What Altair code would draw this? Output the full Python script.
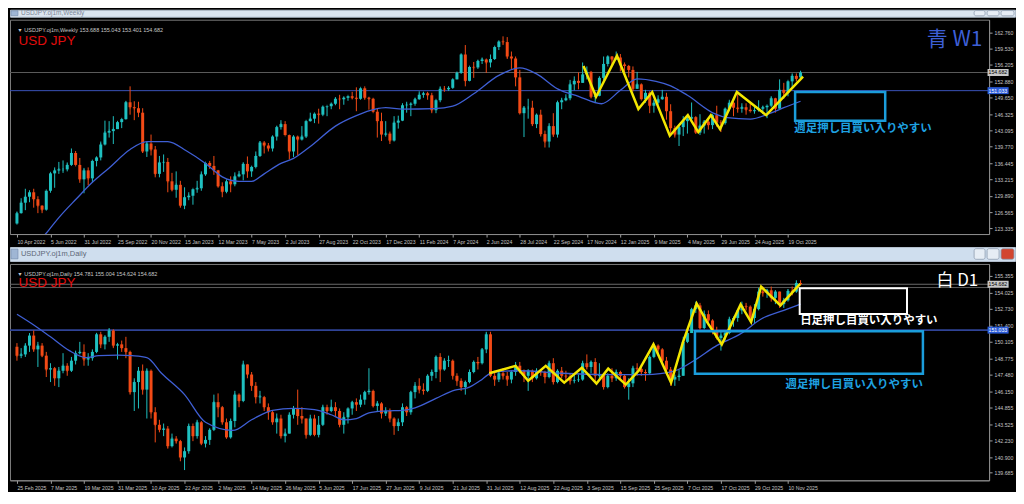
import json
import altair as alt
import pandas as pd

# ---------------- axis labels ----------------
W_XLABELS = ["10 Apr 2022", "5 Jun 2022", "31 Jul 2022", "25 Sep 2022", "20 Nov 2022", "15 Jan 2023",
             "12 Mar 2023", "7 May 2023", "2 Jul 2023", "27 Aug 2023", "22 Oct 2023", "17 Dec 2023",
             "11 Feb 2024", "7 Apr 2024", "2 Jun 2024", "28 Jul 2024", "22 Sep 2024", "17 Nov 2024",
             "12 Jan 2025", "9 Mar 2025", "4 May 2025", "29 Jun 2025", "24 Aug 2025", "19 Oct 2025"]
D_XLABELS = ["25 Feb 2025", "7 Mar 2025", "19 Mar 2025", "31 Mar 2025", "10 Apr 2025", "22 Apr 2025",
             "2 May 2025", "14 May 2025", "26 May 2025", "5 Jun 2025", "17 Jun 2025", "27 Jun 2025",
             "9 Jul 2025", "21 Jul 2025", "31 Jul 2025", "12 Aug 2025", "22 Aug 2025", "3 Sep 2025",
             "15 Sep 2025", "25 Sep 2025", "7 Oct 2025", "17 Oct 2025", "29 Oct 2025", "10 Nov 2025"]
W_YTICKS = [162.760, 159.530, 156.205, 152.880, 149.650, 146.325, 143.095, 139.770, 136.445,
            133.215, 129.890, 126.565, 123.335]
D_YTICKS = [155.355, 154.025, 152.730, 151.400, 150.105, 148.775, 147.480, 146.150, 144.855,
            143.525, 142.230, 140.900, 139.685]

# ---------------- weekly candles ----------------
W_OPEN = [124.3, 126.4, 128.5, 129.7, 130.6, 129.2, 127.9, 127.1, 130.9, 134.4,
          135.0, 135.2, 135.2, 136.1, 138.5, 136.1, 133.2, 135.0, 133.4, 136.9,
          137.6, 140.2, 142.6, 142.9, 143.3, 144.7, 145.3, 148.7, 147.7, 147.5,
          146.6, 138.8, 140.4, 139.2, 134.3, 136.6, 136.7, 132.8, 131.1, 132.1,
          127.9, 129.6, 129.9, 131.2, 131.4, 134.2, 136.5, 135.9, 135.0, 131.8,
          130.7, 132.8, 132.2, 133.8, 134.2, 136.3, 134.8, 135.7, 137.9, 140.6,
          140.0, 139.4, 141.8, 143.7, 144.3, 142.1, 138.8, 141.8, 141.2, 141.8,
          144.9, 145.4, 146.4, 146.2, 147.8, 147.9, 148.4, 149.4, 149.3, 149.6,
          149.9, 149.6, 149.4, 151.5, 149.6, 149.4, 146.8, 144.9, 142.2, 142.4,
          141.0, 144.6, 145.0, 148.1, 148.2, 148.4, 149.3, 150.2, 150.5, 150.1,
          147.1, 149.1, 151.4, 151.3, 151.6, 153.3, 154.6, 158.3, 153.0, 155.8,
          155.7, 157.0, 157.3, 156.7, 157.4, 159.8, 160.9, 160.8, 157.9, 157.5,
          153.7, 146.5, 147.6, 147.6, 144.3, 146.2, 142.3, 140.8, 143.9, 142.2,
          148.7, 149.1, 149.5, 152.3, 153.0, 152.6, 154.3, 154.8, 149.8, 150.0,
          153.6, 156.4, 157.9, 157.3, 157.7, 156.3, 156.0, 155.2, 151.4, 152.3,
          149.3, 150.6, 148.0, 148.6, 149.3, 149.8, 146.9, 143.5, 142.2, 143.7,
          144.9, 145.4, 145.7, 142.6, 144.0, 144.8, 144.1, 146.1, 144.6, 144.5,
          147.4, 148.6, 147.6, 147.4, 147.7, 147.2, 146.9, 147.1, 147.4, 147.7,
          148.0, 149.5, 147.4, 151.2, 150.6, 152.9, 154.0, 153.688]
W_HIGH = [126.7, 129.4, 131.3, 131.0, 131.3, 129.8, 128.0, 130.9, 134.6, 135.6,
          136.7, 137.0, 136.6, 139.4, 138.9, 137.5, 135.5, 135.6, 137.0, 137.7,
          140.8, 145.0, 144.9, 145.9, 144.9, 145.4, 148.9, 151.9, 148.9, 148.8,
          147.5, 140.8, 142.2, 139.9, 137.9, 138.2, 137.5, 134.5, 134.8, 132.9,
          131.6, 130.6, 131.2, 132.9, 134.8, 136.5, 136.9, 137.9, 135.1, 132.6,
          133.2, 133.8, 134.6, 134.9, 136.6, 137.8, 135.8, 138.8, 140.9, 140.9,
          140.5, 141.9, 143.9, 145.1, 144.9, 142.2, 142.0, 142.0, 143.9, 145.0,
          146.6, 146.4, 147.4, 147.9, 147.9, 148.5, 149.7, 150.2, 149.8, 149.9,
          150.8, 151.7, 151.6, 151.9, 149.8, 149.6, 147.5, 146.6, 144.9, 142.8,
          145.9, 146.0, 148.5, 148.8, 148.6, 149.6, 150.9, 150.8, 150.8, 150.6,
          149.2, 151.9, 151.97, 151.9, 153.4, 154.8, 158.4, 160.2, 155.9, 156.8,
          157.2, 157.7, 157.5, 158.3, 159.9, 161.0, 161.95, 161.8, 158.9, 157.9,
          155.2, 147.9, 149.4, 149.0, 146.3, 147.2, 143.0, 144.5, 146.5, 149.0,
          149.6, 150.3, 153.2, 153.9, 154.7, 156.7, 155.9, 155.0, 150.8, 153.9,
          157.9, 158.0, 158.0, 158.9, 158.4, 156.7, 156.2, 155.9, 154.8, 152.5,
          151.2, 150.9, 149.2, 150.1, 151.2, 150.6, 148.3, 144.0, 143.9, 145.9,
          146.2, 148.65, 145.9, 146.3, 145.1, 145.5, 146.3, 148.0, 145.1, 147.5,
          149.2, 148.8, 150.9, 148.5, 148.5, 148.8, 147.9, 149.1, 148.0, 148.0,
          149.9, 149.6, 153.3, 152.6, 153.0, 154.5, 154.5, 155.043]
W_LOW = [124.1, 126.3, 127.0, 128.6, 127.5, 126.4, 126.4, 126.9, 130.5, 131.5,
         134.3, 134.5, 134.8, 135.9, 136.0, 132.5, 130.4, 132.0, 132.6, 135.8,
         137.0, 140.0, 141.6, 140.3, 143.3, 143.5, 145.2, 146.2, 145.1, 145.7,
         138.5, 137.7, 138.0, 133.6, 133.6, 134.7, 130.6, 130.8, 129.5, 127.5,
         127.2, 129.0, 128.1, 130.5, 130.9, 133.9, 135.3, 134.1, 131.6, 129.6,
         130.4, 130.6, 131.8, 133.6, 133.0, 133.5, 133.7, 135.4, 137.7, 138.4,
         138.8, 138.8, 141.0, 143.2, 142.1, 137.2, 137.7, 138.1, 141.0, 141.5,
         144.8, 144.5, 144.4, 145.9, 145.9, 147.3, 148.1, 147.3, 148.2, 149.0,
         149.3, 146.9, 149.2, 149.2, 147.2, 146.7, 141.6, 140.9, 141.8, 140.3,
         140.8, 143.4, 144.9, 146.6, 145.9, 148.0, 149.2, 149.6, 149.2, 146.5,
         146.5, 148.7, 150.8, 151.0, 151.4, 153.3, 154.4, 151.9, 152.9, 153.6,
         155.4, 156.4, 154.6, 155.7, 157.2, 159.2, 160.2, 157.4, 155.4, 151.9,
         146.4, 141.7, 145.4, 143.9, 143.5, 141.8, 139.6, 139.6, 141.7, 141.6,
         147.3, 148.9, 149.1, 151.1, 151.3, 152.6, 153.3, 149.5, 148.6, 149.9,
         153.2, 155.9, 156.0, 157.2, 154.9, 154.8, 153.7, 150.9, 151.4, 149.3,
         148.6, 146.5, 146.6, 148.2, 149.2, 145.2, 142.1, 141.6, 139.9, 141.9,
         142.4, 145.1, 142.4, 142.1, 142.4, 143.2, 143.3, 143.8, 142.7, 144.2,
         146.9, 145.9, 146.6, 146.6, 146.2, 146.9, 146.4, 146.8, 146.3, 145.5,
         147.7, 146.6, 147.4, 149.4, 149.9, 151.5, 152.9, 153.401]
W_CLOSE = [126.4, 128.5, 129.7, 130.6, 129.2, 127.9, 127.1, 130.9, 134.4, 135.0,
           135.2, 135.2, 136.1, 138.5, 136.1, 133.2, 135.0, 133.4, 136.9, 137.6,
           140.2, 142.6, 142.9, 143.3, 144.7, 145.3, 148.7, 147.7, 147.5, 146.6,
           138.8, 140.4, 139.2, 134.3, 136.6, 136.7, 132.8, 131.1, 132.1, 127.9,
           129.6, 129.9, 131.2, 131.4, 134.2, 136.5, 135.9, 135.0, 131.8, 130.7,
           132.8, 132.2, 133.8, 134.2, 136.3, 134.8, 135.7, 137.9, 140.6, 140.0,
           139.4, 141.8, 143.7, 144.3, 142.1, 138.8, 141.8, 141.2, 141.8, 144.9,
           145.4, 146.4, 146.2, 147.8, 147.9, 148.4, 149.4, 149.3, 149.6, 149.9,
           149.6, 149.4, 151.5, 149.6, 149.4, 146.8, 144.9, 142.2, 142.4, 141.0,
           144.6, 145.0, 148.1, 148.2, 148.4, 149.3, 150.2, 150.5, 150.1, 147.1,
           149.1, 151.4, 151.3, 151.6, 153.3, 154.6, 158.3, 153.0, 155.8, 155.7,
           157.0, 157.3, 156.7, 157.4, 159.8, 160.9, 160.8, 157.9, 157.5, 153.7,
           146.5, 147.6, 147.6, 144.3, 146.2, 142.3, 140.8, 143.9, 142.2, 148.7,
           149.1, 149.5, 152.3, 153.0, 152.6, 154.3, 154.8, 149.8, 150.0, 153.6,
           156.4, 157.9, 157.3, 157.7, 156.3, 156.0, 155.2, 151.4, 152.3, 149.3,
           150.6, 148.0, 148.6, 149.3, 149.8, 146.9, 143.5, 142.2, 143.7, 144.9,
           145.4, 145.7, 142.6, 144.0, 144.8, 144.1, 146.1, 144.6, 144.5, 147.4,
           148.6, 147.6, 147.4, 147.7, 147.2, 146.9, 147.1, 147.4, 147.7, 148.0,
           149.5, 147.4, 151.2, 150.6, 152.9, 154.0, 153.4, 154.682]

# ---------------- daily candles ----------------
D_OPEN = [149.7, 149.0, 149.1, 149.8, 150.6, 149.5, 149.8, 149.0, 147.9, 148.0,
          147.2, 147.8, 148.2, 147.8, 148.6, 149.2, 149.3, 148.7, 148.8, 149.3,
          150.7, 149.9, 150.5, 151.0, 149.8, 149.9, 149.6, 149.3, 146.1, 146.9,
          147.8, 146.3, 147.8, 144.5, 143.5, 143.1, 143.2, 141.8, 142.4, 142.2,
          140.9, 141.4, 143.4, 142.6, 143.7, 142.0, 142.3, 143.1, 145.3, 144.9,
          143.7, 142.5, 143.8, 145.9, 145.4, 148.3, 147.5, 146.6, 145.7, 145.7,
          144.9, 144.5, 143.7, 144.0, 142.6, 142.8, 144.3, 144.8, 144.2, 144.0,
          142.7, 144.0, 142.7, 143.5, 144.9, 144.6, 144.9, 144.6, 143.5, 144.1,
          144.8, 145.3, 145.1, 145.5, 146.1, 146.2, 145.0, 145.2, 144.4, 144.6,
          144.0, 143.4, 143.7, 144.9, 144.5, 146.1, 146.6, 146.3, 146.2, 147.4,
          147.7, 148.9, 147.9, 148.6, 148.6, 147.4, 147.0, 146.5, 146.9, 147.7,
          148.5, 148.4, 149.5, 150.7, 147.4, 147.1, 147.6, 147.4, 147.1, 147.7,
          148.2, 147.8, 147.4, 147.8, 147.2, 147.8, 147.7, 147.3, 148.4, 146.9,
          147.8, 147.4, 147.35, 147.0, 147.05, 147.1, 148.4, 148.1, 148.5, 147.4,
          147.5, 146.5, 147.4, 147.2, 147.7, 147.4, 146.5, 146.8, 148.0, 147.95,
          147.7, 147.6, 148.9, 149.8, 149.5, 148.6, 147.9, 147.1, 147.3, 147.4,
          150.1, 150.8, 152.7, 153.0, 151.2, 152.3, 151.8, 151.0, 150.4, 150.6,
          150.8, 151.9, 152.0, 152.6, 152.95, 152.9, 152.0, 152.7, 154.1, 154.0,
          154.2, 153.6, 154.1, 153.1, 153.4, 154.15, 154.1, 154.781]
D_HIGH = [150.0, 149.6, 150.0, 150.8, 151.0, 150.1, 150.0, 149.3, 148.4, 148.1,
          148.1, 149.2, 148.4, 148.9, 149.4, 150.1, 149.9, 149.2, 149.5, 150.8,
          150.9, 150.6, 151.2, 151.1, 150.0, 150.2, 150.5, 149.4, 147.2, 148.1,
          148.3, 148.0, 147.9, 144.9, 143.9, 143.6, 143.4, 142.8, 142.6, 142.3,
          141.7, 143.6, 143.6, 143.9, 143.8, 142.6, 143.2, 145.9, 146.0, 145.0,
          144.0, 144.0, 146.2, 146.0, 148.6, 148.3, 147.7, 146.9, 146.2, 145.8,
          145.2, 144.6, 144.4, 144.3, 143.2, 144.5, 145.0, 146.3, 144.9, 144.0,
          144.3, 144.3, 144.2, 145.1, 145.1, 145.5, 145.3, 144.8, 144.5, 144.8,
          145.4, 145.6, 145.9, 146.2, 148.0, 146.3, 145.4, 145.3, 144.9, 144.8,
          144.1, 144.0, 145.2, 145.0, 146.2, 146.9, 147.2, 146.8, 147.5, 147.9,
          149.0, 149.2, 148.8, 149.0, 148.7, 147.6, 147.2, 147.0, 147.9, 148.6,
          148.9, 149.6, 150.9, 150.9, 147.8, 147.8, 148.0, 147.7, 147.8, 148.5,
          148.5, 147.9, 147.9, 147.9, 148.0, 147.9, 147.8, 148.6, 148.8, 147.9,
          148.1, 147.8, 147.6, 147.5, 147.5, 148.6, 149.1, 148.6, 148.8, 148.4,
          147.6, 147.6, 148.0, 147.9, 147.8, 147.5, 147.2, 148.2, 148.4, 148.3,
          147.9, 149.0, 149.9, 149.9, 149.6, 148.9, 148.1, 147.5, 147.9, 150.5,
          151.0, 152.8, 153.3, 153.2, 152.6, 152.6, 151.9, 151.3, 150.9, 151.0,
          152.1, 152.1, 152.7, 153.3, 153.2, 153.0, 153.1, 154.4, 154.5, 154.3,
          154.5, 154.2, 154.1, 153.6, 154.3, 154.5, 155.0, 155.004]
D_LOW = [148.6, 148.8, 148.9, 149.3, 149.3, 148.1, 148.9, 147.3, 146.9, 146.6,
         146.5, 147.6, 147.4, 147.7, 148.3, 149.1, 148.2, 148.2, 148.6, 149.2,
         149.6, 149.5, 150.1, 149.6, 148.7, 149.3, 148.8, 145.9, 144.6, 144.8,
         145.9, 144.0, 144.0, 142.1, 142.9, 142.6, 141.6, 141.7, 142.0, 140.6,
         139.9, 141.2, 142.2, 142.4, 141.9, 141.7, 141.9, 143.0, 144.1, 143.5,
         142.4, 142.4, 143.3, 144.9, 145.3, 147.2, 146.2, 145.2, 145.2, 144.6,
         143.9, 143.5, 142.8, 142.4, 142.1, 142.8, 144.0, 143.5, 143.6, 142.4,
         142.6, 142.6, 142.5, 143.4, 144.3, 144.5, 144.2, 143.3, 142.8, 143.6,
         144.3, 144.6, 144.9, 145.1, 145.9, 144.9, 144.6, 144.0, 144.2, 143.7,
         142.7, 143.0, 143.4, 144.2, 144.3, 145.6, 146.0, 145.9, 146.1, 147.0,
         147.2, 146.9, 147.8, 148.1, 147.1, 146.6, 146.2, 145.9, 146.8, 147.6,
         147.9, 148.3, 149.2, 147.3, 146.6, 146.9, 147.1, 146.6, 146.8, 147.4,
         147.6, 146.9, 146.2, 146.9, 147.1, 147.4, 146.8, 147.2, 146.7, 146.8,
         147.2, 147.0, 146.7, 146.8, 146.9, 147.0, 147.9, 147.6, 147.0, 147.1,
         146.3, 146.4, 146.9, 147.0, 147.0, 146.4, 145.5, 146.5, 147.4, 147.4,
         147.0, 147.5, 148.8, 149.1, 148.5, 147.7, 146.6, 146.6, 147.0, 147.4,
         150.0, 150.8, 152.4, 151.1, 151.1, 151.4, 150.7, 150.3, 149.4, 150.2,
         150.7, 151.3, 151.7, 152.3, 152.6, 151.8, 151.6, 152.6, 153.7, 153.6,
         153.3, 153.1, 152.8, 152.8, 153.3, 153.8, 154.0, 154.624]
D_CLOSE = [149.0, 149.1, 149.8, 150.6, 149.5, 149.8, 149.0, 147.9, 148.0, 147.2,
           147.8, 148.2, 147.8, 148.6, 149.2, 149.3, 148.7, 148.8, 149.3, 150.7,
           149.9, 150.5, 151.0, 149.8, 149.9, 149.6, 149.3, 146.1, 146.9, 147.8,
           146.3, 147.8, 144.5, 143.5, 143.1, 143.2, 141.8, 142.4, 142.2, 140.9,
           141.4, 143.4, 142.6, 143.7, 142.0, 142.3, 143.1, 145.3, 144.9, 143.7,
           142.5, 143.8, 145.9, 145.4, 148.3, 147.5, 146.6, 145.7, 145.75, 144.9,
           144.5, 143.7, 144.0, 142.6, 142.8, 144.3, 144.8, 144.2, 144.0, 142.7,
           144.0, 142.7, 143.5, 144.9, 144.6, 144.9, 144.6, 143.5, 144.1, 144.8,
           145.3, 145.1, 145.5, 146.1, 146.2, 145.0, 145.2, 144.4, 144.6, 144.0,
           143.4, 143.7, 144.9, 144.5, 146.1, 146.6, 146.3, 146.2, 147.4, 147.7,
           148.9, 147.9, 148.6, 148.65, 147.4, 147.0, 146.5, 146.9, 147.7, 148.5,
           148.4, 149.5, 150.7, 147.4, 147.1, 147.6, 147.4, 147.1, 147.7, 148.2,
           147.8, 147.4, 147.8, 147.2, 147.8, 147.7, 147.3, 148.4, 146.9, 147.8,
           147.4, 147.35, 147.0, 147.05, 147.1, 148.4, 148.1, 148.5, 147.4, 147.5,
           146.5, 147.4, 147.2, 147.7, 147.4, 146.5, 146.8, 148.0, 147.95, 147.7,
           147.6, 148.9, 149.8, 149.5, 148.6, 147.9, 147.1, 147.3, 147.4, 150.1,
           150.8, 152.7, 153.0, 151.2, 152.3, 151.8, 151.0, 150.4, 150.6, 150.8,
           151.9, 152.0, 152.6, 152.95, 152.9, 152.0, 152.7, 154.1, 154.0, 154.2,
           153.6, 154.1, 153.1, 153.4, 154.15, 154.1, 154.78, 154.682]

# ---------------- moving averages ----------------
W_MA_I = [5, 7.6, 10, 14.2, 18, 22, 27, 31, 36, 40.5, 45, 49, 53, 56, 59, 63, 66, 70, 76, 81,
          85.5, 88, 92, 99.5, 104, 109, 115, 120, 124, 129, 134, 139.5, 144, 148, 152.5, 156,
          160, 166.5, 169.5, 175, 179.5, 183, 187]
W_MA_P = [120.4, 123.0, 125.5, 129.3, 132.6, 135.5, 139.2, 140.8, 140.8, 138.9, 136.4, 133.7,
          132.8, 132.8, 134.3, 136.4, 137.4, 139.8, 143.9, 146.0, 147.3, 147.6, 147.3, 147.4,
          147.9, 150.4, 154.1, 155.6, 154.4, 151.4, 149.9, 148.4, 151.1, 153.4, 152.9, 152.0,
          150.1, 146.4, 145.6, 145.3, 146.4, 147.6, 148.9]
D_MA_I = [0, 3.3, 8, 12.5, 16.5, 19.5, 24, 27.5, 31, 34.5, 40, 45, 51.5, 56, 61, 66, 71, 75, 78,
          81, 84, 88, 92, 95, 100, 104.5, 107.5, 110.5, 113, 115.5, 120, 130, 140, 150, 157, 162,
          166.5, 173, 177.5, 183, 187]
D_MA_P = [152.3, 151.6, 150.5, 149.4, 148.85, 149.0, 149.05, 149.0, 148.85, 147.6, 145.9, 143.7,
          143.05, 143.9, 144.65, 144.8, 144.7, 144.3, 143.9, 144.0, 144.45, 144.6, 144.65, 144.85,
          145.6, 146.26, 146.43, 147.0, 147.6, 147.75, 147.8, 147.6, 147.5, 147.5, 147.8, 148.7,
          149.7, 150.8, 151.9, 152.6, 153.1]

# ---------------- hand drawn zigzags ----------------
W_ZZ_I = [135.2, 138.2, 143.2, 148.3, 151.6, 155.8, 160.1, 162.6, 165.6, 167.8, 171.8, 178.8, 187.6]
W_ZZ_P = [156.0, 149.8, 158.06, 147.35, 150.75, 141.96, 146.1, 142.7, 146.1, 143.3, 150.75, 146.1, 153.85]
D_ZZ_I = [112.7, 119.0, 122.0, 126.2, 130.6, 134.8, 138.3, 141.1, 145.3, 148.4, 151.9, 156.1,
          158.9, 162.2, 164.7, 168.2, 172.7, 175.2, 177.6, 182.2, 186.9]
D_ZZ_P = [147.6, 148.19, 147.0, 148.19, 146.85, 148.04, 146.78, 147.97, 146.7, 147.82, 149.9,
          146.85, 150.04, 153.15, 151.67, 149.9, 153.08, 151.67, 154.49, 153.0, 154.71]

# ---------------- horizontal lines, boxes, notes ----------------
W_HL_P = [154.682, 151.033]
W_HL_C = ["#5a5a5a", "#3a52b8"]
W_HL_W = [1, 1]
D_HL_P = [154.682, 154.42, 151.033]
D_HL_C = ["#6a6a6a", "#5a5a5a", "#2f4396"]
D_HL_W = [1, 1, 1.6]

W_BOX = {"i1": [185.7], "i2": [207.2], "p1": [150.75], "p2": [144.99], "col": ["#1b9ddb"], "w": [2.5]}
D_BOX = {"i1": [186.8, 161.8], "i2": [212.4, 216.2], "p1": [154.36, 150.95], "p2": [152.32, 147.57],
         "col": ["#ffffff", "#1b9ddb"], "w": [2, 2.5]}

NOTE_TEXT = "押し目買い入りやすい"
W_NOTES = {"i": [185.5], "p": [143.3], "t": ["週足" + NOTE_TEXT], "col": ["#1ea2e2"]}
D_NOTES = {"i": [186.9, 183.4], "p": [151.77, 146.63], "t": ["日足" + NOTE_TEXT, "週足" + NOTE_TEXT],
           "col": ["#ffffff", "#1ea2e2"]}

TAG_P = [154.682, 151.033]
TAG_FILL = ["#c8c8c8", "#2a5bd7"]
TAG_TXT = ["#000000", "#ffffff"]
TAG_X1 = 231.62
TAG_X2 = 236.65

# ---------------- style ----------------
BULL = "#1fc0c0"
BEAR = "#f24a16"
MA_COLOR = "#3f5fd4"
ZZ_COLOR = "#f3e600"
AX_TXT = "#c4c4c4"
LAT = "Liberation Sans"
JP = "Noto Sans CJK JP"
AX_FS = 5.2

PW = 982
W_PH = 215
D_PH = 217
XDOM = [-0.47, 230.8]
W_YDOM = [123.2, 164.3]
D_YDOM = [139.48, 155.9]


def xenc(field, labels):
    return alt.X(f"{field}:Q", title=None,
                 scale=alt.Scale(domain=XDOM, nice=False, zero=False),
                 axis=alt.Axis(values=list(range(0, 8 * len(labels), 8)),
                               labelExpr=json.dumps(labels) + "[round(datum.value/8)]",
                               labelAlign="left", labelBaseline="top", labelPadding=2,
                               labelFontSize=AX_FS, labelFont=LAT, labelColor=AX_TXT,
                               tickColor="#a0a0a0", tickSize=3, domainColor="#8c8c8c",
                               grid=False, labelOverlap=False, labelFlush=False, labelBound=False))


def yenc(field, dom, ticks):
    return alt.Y(f"{field}:Q", title=None,
                 scale=alt.Scale(domain=dom, nice=False, zero=False),
                 axis=alt.Axis(orient="right", values=ticks, format=".3f",
                               labelFontSize=AX_FS, labelFont=LAT, labelColor=AX_TXT,
                               labelPadding=2, tickColor="#a0a0a0", tickSize=3,
                               domainColor="#8c8c8c", grid=False, labelOverlap=False,
                               labelFlush=False, labelBound=False))


def panel(o, h, l, c, xlabels, ydom, yticks, ph, ma_i, ma_p, zz_i, zz_p,
          hl_p, hl_c, hl_w, box, notes, header, tf_text, tf_color, tf_size, tf_p, tf_i,
          usd_p, head_p):
    X = lambda f: xenc(f, xlabels)
    Y = lambda f: yenc(f, ydom, yticks)

    cdf = pd.DataFrame({"i": list(range(len(o))), "o": o, "h": h, "l": l, "c": c})
    col = alt.condition("datum.c >= datum.o", alt.value(BULL), alt.value(BEAR))

    hl = alt.Chart(pd.DataFrame({"p": hl_p, "col": hl_c, "w": hl_w})).mark_rule().encode(
        y=Y("p"), color=alt.Color("col:N", scale=None), size=alt.Size("w:Q", scale=None))

    wick = alt.Chart(cdf).mark_rule(strokeWidth=1).encode(x=X("i"), y=Y("l"), y2="h:Q", color=col)
    body = alt.Chart(cdf).mark_bar(size=3).encode(x=X("i"), y=Y("o"), y2="c:Q", color=col)
    flat = alt.Chart(cdf).mark_tick(size=3, thickness=1).encode(x=X("i"), y=Y("c"), color=col)

    ma = alt.Chart(pd.DataFrame({"i": ma_i, "p": ma_p})).mark_line(
        color=MA_COLOR, strokeWidth=1.3, interpolate="monotone", clip=True).encode(x=X("i"), y=Y("p"))
    zz = alt.Chart(pd.DataFrame({"i": zz_i, "p": zz_p})).mark_line(
        color=ZZ_COLOR, strokeWidth=2.5, clip=True).encode(x=X("i"), y=Y("p"))

    boxes = alt.Chart(pd.DataFrame(box)).mark_rect(fillOpacity=0).encode(
        x=X("i1"), x2="i2:Q", y=Y("p1"), y2="p2:Q",
        stroke=alt.Color("col:N", scale=None), strokeWidth=alt.StrokeWidth("w:Q", scale=None))

    note = alt.Chart(pd.DataFrame(notes)).mark_text(
        align="left", baseline="middle", font=JP, fontSize=11.5, fontWeight="bold").encode(
        x=X("i"), y=Y("p"), text="t:N", color=alt.Color("col:N", scale=None))

    head = alt.Chart(pd.DataFrame({"i": [0.1], "p": [head_p], "t": [header]})).mark_text(
        align="left", baseline="middle", font=LAT, fontSize=5.5, color="#c8c8c8").encode(
        x=X("i"), y=Y("p"), text="t:N")
    usd = alt.Chart(pd.DataFrame({"i": [0.4], "p": [usd_p], "t": ["USD JPY"]})).mark_text(
        align="left", baseline="middle", font=LAT, fontSize=13.5, color="#e00c0c").encode(
        x=X("i"), y=Y("p"), text="t:N")
    tf = alt.Chart(pd.DataFrame({"i": [tf_i], "p": [tf_p], "t": [tf_text]})).mark_text(
        align="right", baseline="middle", font=JP, fontSize=tf_size, color=tf_color).encode(
        x=X("i"), y=Y("p"), text="t:N")

    tdf = pd.DataFrame({"p": TAG_P, "fill": TAG_FILL, "tc": TAG_TXT, "x1": [TAG_X1] * 2,
                        "x2": [TAG_X2] * 2, "t": [f"{v:.3f}" for v in TAG_P]})
    tag = alt.Chart(tdf).mark_bar(size=7, clip=False).encode(
        x=X("x1"), x2="x2:Q", y=Y("p"), color=alt.Color("fill:N", scale=None))
    tagt = alt.Chart(tdf).mark_text(align="left", baseline="middle", dx=1, font=LAT, fontSize=AX_FS,
                                    clip=False).encode(
        x=X("x1"), y=Y("p"), text="t:N", color=alt.Color("tc:N", scale=None))

    return alt.layer(hl, wick, body, flat, ma, zz, boxes, note, head, usd, tf, tag, tagt).properties(
        width=PW, height=ph, view=alt.ViewBackground(fill="#000000", stroke="#7c7c7c"))


BTN_X1 = [967, 980, 994]
BTN_X2 = [978, 992, 1007]


def titlebar(text, h, fill, btn_fill, txt_col, fs):
    xs = alt.Scale(domain=[0, 1008], nice=False, zero=False)
    ys = alt.Scale(domain=[0, 1], nice=False, zero=False)
    t = alt.Chart(pd.DataFrame({"x": [11], "y": [0.5], "t": [text]})).mark_text(
        align="left", baseline="middle", font=LAT, fontSize=fs, color=txt_col).encode(
        x=alt.X("x:Q", scale=xs, axis=None), y=alt.Y("y:Q", scale=ys, axis=None), text="t:N")
    b = alt.Chart(pd.DataFrame({"x1": BTN_X1, "x2": BTN_X2, "y1": [0.12] * 3, "y2": [0.88] * 3,
                                "f": btn_fill})).mark_rect(stroke="#8e9cb0", strokeWidth=0.8,
                                                           cornerRadius=2).encode(
        x=alt.X("x1:Q", scale=xs, axis=None), x2="x2:Q",
        y=alt.Y("y1:Q", scale=ys, axis=None), y2="y2:Q", color=alt.Color("f:N", scale=None))
    icon = alt.Chart(pd.DataFrame({"x1": [1], "x2": [8], "y1": [0.15], "y2": [0.85]})).mark_rect(
        color="#9fb6d4", stroke="#6f87a8", strokeWidth=0.6).encode(
        x=alt.X("x1:Q", scale=xs, axis=None), x2="x2:Q",
        y=alt.Y("y1:Q", scale=ys, axis=None), y2="y2:Q")
    return alt.layer(t, b, icon).properties(
        width=1008, height=h, view=alt.ViewBackground(fill=fill, stroke="#b4c0ce"))


top = panel(W_OPEN, W_HIGH, W_LOW, W_CLOSE, W_XLABELS, W_YDOM, W_YTICKS, W_PH,
            W_MA_I, W_MA_P, W_ZZ_I, W_ZZ_P, W_HL_P, W_HL_C, W_HL_W, W_BOX, W_NOTES,
            "▼ USDJPY.oj1m,Weekly  153.688 155.043 153.401 154.682",
            "青 W1", "#3d5fd6", 21, 161.3, 230.4, 161.1, 163.3)
bottom = panel(D_OPEN, D_HIGH, D_LOW, D_CLOSE, D_XLABELS, D_YDOM, D_YTICKS, D_PH,
               D_MA_I, D_MA_P, D_ZZ_I, D_ZZ_P, D_HL_P, D_HL_C, D_HL_W, D_BOX, D_NOTES,
               "▼ USDJPY.oj1m,Daily  154.781 155.004 154.624 154.682",
               "白 D1", "#ffffff", 17, 154.93, 229.4, 154.78, 155.53)

tb1 = titlebar("USDJPY.oj1m,Weekly", 7, "#dbe5ef", ["#e6edf5"] * 3, "#7d8898", 6.5)
tb2 = titlebar("USDJPY.oj1m,Daily", 14, "#cfdeee", ["#e6edf5", "#e6edf5", "#d2452f"], "#5d6878", 7.5)

chart = alt.vconcat(tb1, top, tb2, bottom, spacing=1).properties(
    padding={"left": 0, "top": 0, "right": 0, "bottom": 0}
).configure(background="#000000")

chart.save("out.html", embed_options={"renderer": "svg", "actions": False})
